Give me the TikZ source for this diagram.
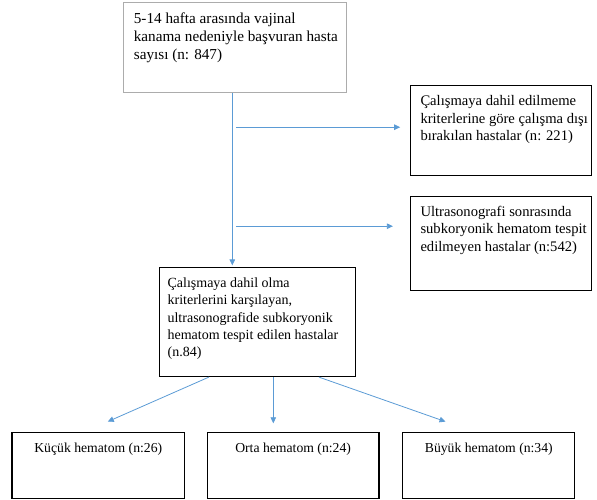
\documentclass[tikz,border=0pt]{standalone}
\usepackage{fontspec}
\setmainfont{Liberation Serif}
\usetikzlibrary{positioning, arrows.meta}
\definecolor{linkblue}{RGB}{91,155,213}
\tikzset{
box/.style={draw, line width=1.2pt, inner xsep=10pt, inner ysep=8pt, font=\fontsize{14.6}{17.5}\selectfont}, % every box of the chart
graybox/.style={box, draw=gray!65}, % the first box has a lighter frame
link/.style={draw=linkblue, line width=0.8pt, -{Triangle[length=6pt,width=5.5pt]}}, % blue arrows
}
% text set at the top left of a box of fixed size
\newcommand{\cell}[3]{\parbox[t][#2][t]{#1}{\begin{tabular}[t]{@{}l@{}}#3\end{tabular}}}
\newcommand{\ccell}[3]{\parbox[t][#2][t]{#1}{\centering\begin{tabular}[t]{@{}c@{}}#3\end{tabular}}}

\begin{document}
\begin{tikzpicture}
      \node[graybox, font=\fontsize{15.2}{18}\selectfont] (start) {\cell{202.4pt}{73.7pt}{5-14 hafta arasında vajinal\\ kanama nedeniyle başvuran hasta\\ sayısı (n: 847)}};
      \useasboundingbox ([xshift=-123.3pt,yshift=2pt]start.north west) rectangle ++(597pt,-499pt);

      \node[box, below right=83pt and 63pt of start.north east] (excl) {\cell{160.6pt}{74pt}{Çalışmaya dahil edilmeme\\ kriterlerine göre çalışma dışı\\ bırakılan hastalar (n: 221)}};
      \node[box, below=19.3pt of excl] (noUS) {\cell{160.6pt}{78.7pt}{Ultrasonografi sonrasında\\ subkoryonik hematom tespit\\ edilmeyen hastalar (n:542)}};
      \node[box, inner xsep=8pt, font=\fontsize{14}{17.3}\selectfont, below right=174pt and 35.7pt of start.south west] (incl) {\cell{180pt}{93pt}{Çalışmaya dahil olma\\ kriterlerini karşılayan,\\ ultrasonografide subkoryonik\\ hematom tespit edilen hastalar\\ (n.84)}};

      \node[box, font=\fontsize{13.7}{17}\selectfont, below right=54.5pt and 47.7pt of incl.south west] (mid) {\ccell{151.6pt}{50pt}{Orta hematom (n:24)}};
      \node[box, font=\fontsize{13.7}{17}\selectfont, left=21.7pt of mid] (small) {\ccell{152.3pt}{50pt}{Küçük hematom (n:26)}};
      \node[box, font=\fontsize{13.7}{17}\selectfont, right=22.7pt of mid] (big) {\ccell{152pt}{50pt}{Büyük hematom (n:34)}};

      \coordinate (v) at ([xshift=-2.8pt]start.south);
      \coordinate (h1) at ([xshift=1.2pt,yshift=-34.3pt]start.south);
      \coordinate (h2) at ([xshift=1.2pt,yshift=-133.3pt]start.south);

      \draw[link] (v) -- ([yshift=1.5pt]v |- incl.north);
      \draw[link, shorten >=9.7pt] (h1) -- (h1 -| excl.west);
      \draw[link, shorten >=17pt] (h2) -- (h2 -| noUS.west);

      \draw[link] ([xshift=-48.7pt]incl.south) -- ([xshift=9.5pt,yshift=10pt]small.north);
      \draw[link] ([xshift=15.7pt]incl.south) -- ([xshift=-19.8pt,yshift=8.3pt]mid.north);
      \draw[link] ([xshift=61.3pt]incl.south) -- ([xshift=-43.3pt,yshift=10pt]big.north);
    \end{tikzpicture}
\end{document}
